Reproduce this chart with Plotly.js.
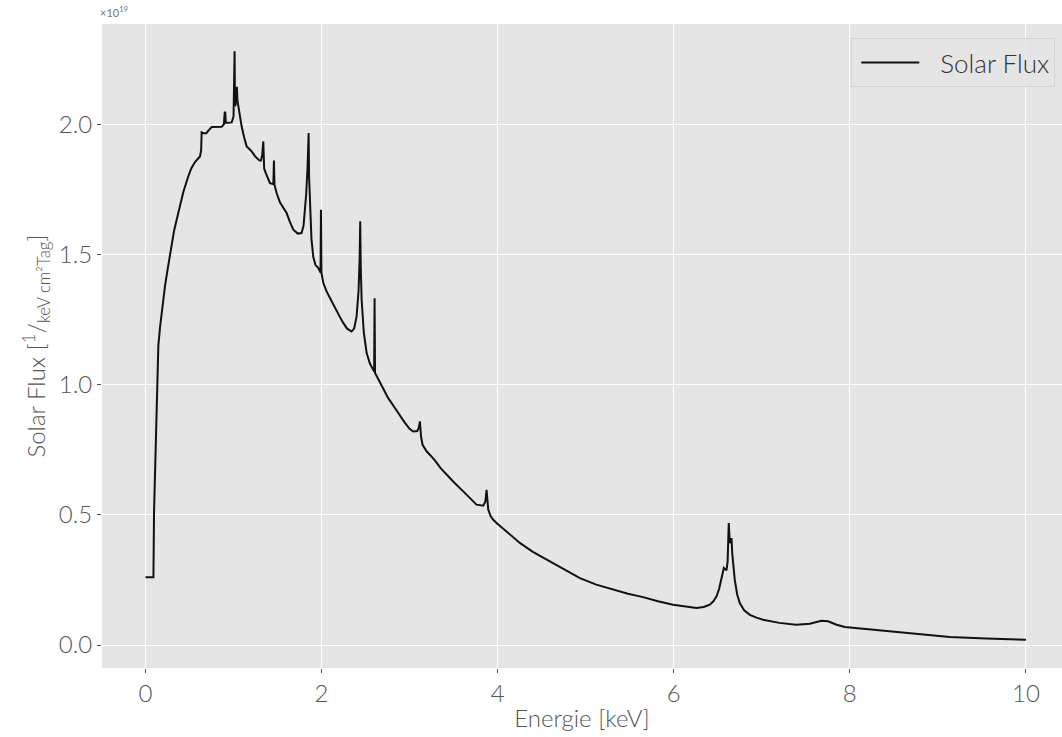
<!DOCTYPE html>
<html>
<head>
<meta charset="utf-8">
<script src="https://cdn.plot.ly/plotly-3.0.1.min.js"></script>
<style>html,body{margin:0;padding:0;background:#fff;}#chart{width:1062px;height:737px;}</style>
</head>
<body>
<div id="chart"></div>
<script>
// Energy in keV
const energy = [
  0, 0.09, 0.097, 0.119, 0.134, 0.146, 0.165, 0.184, 0.2, 0.221,
  0.25, 0.278, 0.3, 0.324, 0.373, 0.43, 0.486, 0.52, 0.562, 0.6,
  0.619, 0.632, 0.638, 0.66, 0.69, 0.713, 0.752, 0.865, 0.89, 0.9,
  0.906, 0.912, 0.979, 1.0, 1.006, 1.012, 1.016, 1.024, 1.032, 1.038,
  1.045, 1.054, 1.07, 1.092, 1.12, 1.149, 1.18, 1.206, 1.25, 1.293,
  1.31, 1.325, 1.338, 1.348, 1.365, 1.39, 1.414, 1.452, 1.459, 1.465,
  1.49, 1.527, 1.56, 1.603, 1.64, 1.679, 1.73, 1.773, 1.795, 1.811,
  1.825, 1.84, 1.853, 1.858, 1.868, 1.885, 1.906, 1.93, 1.963, 1.988,
  1.993, 1.998, 2.02, 2.057, 2.1, 2.152, 2.2, 2.246, 2.29, 2.341,
  2.37, 2.398, 2.42, 2.432, 2.439, 2.445, 2.455, 2.48, 2.512, 2.55,
  2.587, 2.597, 2.602, 2.607, 2.63, 2.663, 2.71, 2.757, 2.833, 2.89,
  2.947, 3.0, 3.041, 3.087, 3.105, 3.117, 3.13, 3.147, 3.193, 3.24,
  3.287, 3.35, 3.42, 3.5, 3.609, 3.69, 3.76, 3.836, 3.86, 3.874,
  3.885, 3.893, 3.92, 3.95, 4.0, 4.063, 4.15, 4.252, 4.4, 4.555,
  4.75, 4.934, 5.12, 5.312, 5.48, 5.652, 5.82, 5.993, 6.13, 6.259,
  6.34, 6.41, 6.45, 6.486, 6.515, 6.542, 6.569, 6.599, 6.612, 6.625,
  6.632, 6.637, 6.645, 6.656, 6.665, 6.675, 6.693, 6.72, 6.75, 6.8,
  6.864, 6.94, 7.015, 7.2, 7.39, 7.545, 7.62, 7.678, 7.753, 7.85,
  7.943, 8.15, 8.378, 8.75, 9.135, 9.55, 10.0
];
// Solar flux in units of 1e19 / (keV cm^2 Tag)
const flux = [
  0.26, 0.26, 0.51, 0.83, 1.02, 1.15, 1.22, 1.275, 1.33, 1.377,
  1.44, 1.50, 1.55, 1.59, 1.66, 1.74, 1.80, 1.83, 1.855, 1.87,
  1.876, 1.90, 1.969, 1.965, 1.965, 1.975, 1.989, 1.99, 2.0, 2.045,
  2.045, 2.005, 2.007, 2.03, 2.28, 2.28, 2.07, 2.075, 2.14, 2.14,
  2.09, 2.068, 2.03, 1.992, 1.95, 1.915, 1.905, 1.896, 1.875, 1.861,
  1.86, 1.88, 1.934, 1.83, 1.813, 1.79, 1.774, 1.77, 1.861, 1.768,
  1.735, 1.70, 1.68, 1.659, 1.625, 1.595, 1.58, 1.582, 1.61, 1.672,
  1.73, 1.83, 1.966, 1.80, 1.672, 1.56, 1.49, 1.46, 1.448, 1.43,
  1.672, 1.43, 1.39, 1.358, 1.33, 1.294, 1.265, 1.237, 1.215, 1.204,
  1.215, 1.262, 1.36, 1.48, 1.627, 1.45, 1.326, 1.20, 1.121, 1.08,
  1.057, 1.05, 1.332, 1.045, 1.03, 1.01, 0.978, 0.948, 0.91, 0.88,
  0.853, 0.83, 0.82, 0.822, 0.835, 0.859, 0.80, 0.769, 0.744, 0.727,
  0.709, 0.68, 0.654, 0.626, 0.59, 0.562, 0.539, 0.535, 0.55, 0.596,
  0.54, 0.52, 0.495, 0.481, 0.465, 0.447, 0.42, 0.392, 0.358, 0.328,
  0.29, 0.257, 0.232, 0.212, 0.197, 0.184, 0.168, 0.155, 0.147, 0.142,
  0.146, 0.155, 0.168, 0.187, 0.215, 0.251, 0.296, 0.287, 0.32, 0.468,
  0.40, 0.392, 0.395, 0.411, 0.35, 0.30, 0.251, 0.195, 0.161, 0.133,
  0.116, 0.105, 0.097, 0.085, 0.078, 0.082, 0.088, 0.093, 0.091, 0.078,
  0.069, 0.062, 0.055, 0.043, 0.031, 0.025, 0.020
];
const xTicks = [0, 2, 4, 6, 8, 10];
const yTicks = [0.0, 0.5, 1.0, 1.5, 2.0];
const yTickLabels = ["0.0", "0.5", "1.0", "1.5", "2.0"];

const FONT = "Lato, 'Open Sans', sans-serif";
const TXT = "#555555";

const trace = {
  x: energy, y: flux, type: "scatter", mode: "lines",
  name: "Solar Flux",
  line: {color: "#111111", width: 2}
};

const layout = {
  width: 1062, height: 737,
  margin: {l: 102, r: 0, t: 24, b: 69, pad: 0},
  paper_bgcolor: "#ffffff",
  plot_bgcolor: "#e5e5e5",
  font: {family: FONT, color: TXT, size: 22},
  showlegend: true,
  legend: {
    x: 0.993, y: 0.978, xanchor: "right", yanchor: "top",
    bgcolor: "rgba(229,229,229,0.85)", bordercolor: "#d4d4d4", borderwidth: 1,
    itemwidth: 78,
    font: {family: FONT, size: 26, color: "#333", weight: 300}
  },
  xaxis: {
    range: [-0.494, 10.41],
    tickvals: xTicks, ticktext: xTicks.map(String),
    showgrid: true, gridcolor: "#ffffff", gridwidth: 1,
    zeroline: false, showline: false,
    ticks: "outside", ticklen: 4, tickcolor: "#555", tickwidth: 1,
    tickfont: {family: FONT, size: 24, color: TXT, weight: 300},
    title: {text: "Energie [keV]", font: {family: FONT, size: 24, color: TXT, weight: 300}, standoff: 4}
  },
  yaxis: {
    range: [-0.0883, 2.385],
    tickvals: yTicks, ticktext: yTickLabels,
    showgrid: true, gridcolor: "#ffffff", gridwidth: 1,
    zeroline: false, showline: false,
    ticks: "outside", ticklen: 4, tickcolor: "#555", tickwidth: 1,
    tickfont: {family: FONT, size: 24, color: TXT, weight: 300},
    title: {text: "Solar Flux [<sup>1</sup>/<sub>keV cm²Tag</sub>]", font: {family: FONT, size: 24, color: TXT, weight: 300}, standoff: 6}
  },
  annotations: [{
    xref: "paper", yref: "paper", x: 0, y: 1, xanchor: "left", yanchor: "bottom",
    xshift: -4, yshift: 3,
    text: "×10<sup>19</sup>", showarrow: false,
    font: {family: FONT, size: 11, color: "#777"}
  }]
};

Plotly.newPlot("chart", [trace], layout, {displayModeBar: false, staticPlot: true}).then(function () {
  document.querySelectorAll("#chart .legendlines path").forEach(function (p) {
    p.setAttribute("d", "M9,0h58");
  });
});
</script>
</body>
</html>
